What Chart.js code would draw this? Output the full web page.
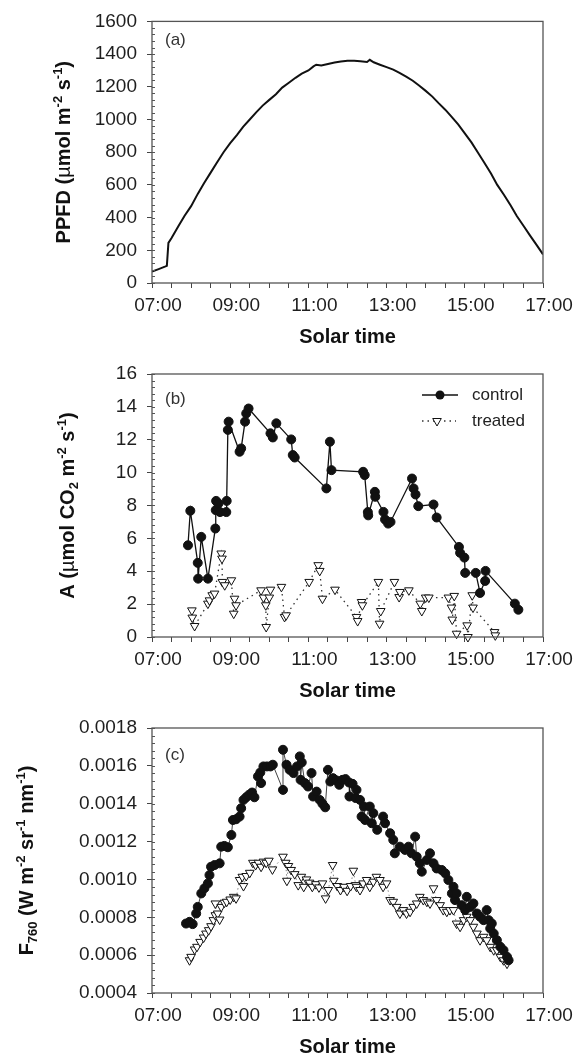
<!DOCTYPE html>
<html>
<head>
<meta charset="utf-8">
<script src="https://cdn.jsdelivr.net/npm/chart.js@4.4.1/dist/chart.umd.min.js"></script>
<style>
  html, body { margin: 0; padding: 0; background: #fff; }
  #wrap { position: relative; width: 576px; height: 1055px; }
  canvas { position: absolute; left: 0; }
</style>
</head>
<body>
<div id="wrap">
  <canvas id="chartA" width="576" height="345" style="top:0px"></canvas>
  <canvas id="chartB" width="576" height="355" style="top:345px"></canvas>
  <canvas id="chartC" width="576" height="355" style="top:700px"></canvas>
</div>
<script>
// solar time axis (hours), labels every 2 h
const timeTickHours = [7, 9, 11, 13, 15, 17];
const timeLabels = ['07:00', '09:00', '11:00', '13:00', '15:00', '17:00'];
const seriesNames = ['control', 'treated'];
const panelLetters = ['(a)', '(b)', '(c)'];

// (a) PPFD
const ppfdTime = [7.00,7.17,7.33,7.38,7.42,7.50,7.67,7.83,8.00,8.17,8.33,8.50,8.67,8.83,9.00,9.17,9.33,9.50,9.67,9.83,
  10.00,10.17,10.33,10.50,10.67,10.83,11.00,11.13,11.20,11.33,11.50,11.67,11.83,12.00,12.17,12.33,12.50,12.57,12.67,12.83,
  13.00,13.17,13.33,13.50,13.67,13.83,14.00,14.17,14.33,14.50,14.67,14.83,15.00,15.17,15.33,15.50,15.67,15.83,
  16.00,16.17,16.33,16.50,16.67,16.83,17.00];
const ppfdValue = [70,85,100,105,245,275,345,410,470,545,610,675,740,800,855,905,955,1000,1045,1085,
  1120,1155,1195,1225,1255,1280,1300,1325,1335,1330,1340,1348,1355,1360,1360,1356,1352,1365,1350,1335,
  1320,1305,1285,1262,1237,1208,1175,1140,1100,1060,1015,970,915,860,800,735,670,600,
  540,475,410,350,290,235,175];

// (b) net assimilation A
const aControlTime = [7.92,7.98,8.17,8.18,8.26,8.43,8.62,8.63,8.64,8.70,8.74,8.90,8.91,8.94,8.96,9.24,9.28,9.38,9.41,9.47,
  10.03,10.09,10.18,10.56,10.60,10.65,11.46,11.55,11.59,12.40,12.44,12.52,12.53,12.70,12.71,12.92,12.96,13.04,13.10,
  13.65,13.69,13.74,13.81,14.20,14.28,14.85,14.88,14.99,15.01,15.28,15.39,15.52,15.53,16.28,16.37];
const aControlValue = [5.58,7.68,4.51,3.55,6.09,3.55,6.6,7.72,8.28,8.12,7.6,7.6,8.28,12.6,13.1,11.27,11.47,13.1,13.6,13.9,
  12.39,12.14,13.0,12.02,11.07,10.92,9.04,11.88,10.15,10.05,9.85,7.6,7.4,8.83,8.53,7.61,7.15,6.9,7.0,
  9.64,9.04,8.67,7.96,8.06,7.27,5.48,5.12,4.83,3.9,3.9,2.68,3.41,4.02,2.03,1.66];
const aTreatedTime = [8.02,8.03,8.09,8.43,8.47,8.54,8.60,8.77,8.79,8.80,8.86,9.03,9.09,9.11,9.15,9.79,9.85,9.91,9.92,
  10.00,10.03,10.31,10.39,10.43,11.02,11.25,11.29,11.36,11.68,12.23,12.26,12.36,12.38,12.79,12.82,12.85,
  13.20,13.32,13.34,13.57,13.86,13.90,14.00,14.08,14.58,14.66,14.68,14.73,14.79,15.06,15.08,15.19,15.21,15.76,15.78];
const aTreatedValue = [1.62,1.18,0.67,2.03,2.23,2.54,2.64,5.08,4.77,3.35,3.15,3.45,1.42,2.33,1.93,2.84,2.4,1.93,0.61,
  2.4,2.88,3.05,1.22,1.32,3.35,4.37,4.02,2.33,2.88,1.22,0.97,2.13,1.93,3.35,0.81,1.58,
  3.35,2.43,2.74,2.84,2.03,1.58,2.4,2.4,2.4,1.79,1.06,2.5,0.2,0.71,0.0,2.54,1.79,0.3,0.1];

// (c) F760
const fControlTime = [7.87,7.96,8.04,8.13,8.17,8.26,8.34,8.43,8.47,8.51,
  8.60,8.73,8.77,8.85,8.94,9.03,9.07,9.15,9.24,9.28,
  9.34,9.41,9.48,9.56,9.62,9.71,9.77,9.79,9.85,9.94,
  10.03,10.09,10.35,10.35,10.44,10.52,10.62,10.71,10.78,10.80,
  10.83,10.91,10.99,11.08,11.12,11.21,11.29,11.36,11.43,11.50,
  11.56,11.63,11.72,11.79,11.87,11.95,12.04,12.05,12.13,12.21,
  12.23,12.32,12.36,12.42,12.45,12.57,12.62,12.66,12.76,12.91,
  12.96,13.09,13.17,13.21,13.34,13.47,13.56,13.64,13.73,13.77,
  13.85,13.90,14.03,14.11,14.20,14.28,14.41,14.50,14.58,14.67,
  14.71,14.75,14.79,14.92,15.01,15.05,15.14,15.22,15.31,15.39,
  15.48,15.56,15.61,15.65,15.69,15.74,15.82,15.91,15.99,16.08,16.12];
const fControlValue = [0.000767,0.000776,0.000764,0.00082,0.000855,0.000926,0.000953,0.000979,0.001023,0.001067,
  0.001076,0.001085,0.001173,0.001177,0.00117,0.001235,0.001314,0.001318,0.001332,0.001376,
  0.00142,0.001434,0.001447,0.001459,0.001434,0.001544,0.001565,0.001509,0.001597,0.001597,
  0.001597,0.001606,0.001473,0.001685,0.001606,0.001579,0.001562,0.001597,0.00165,0.001526,
  0.001618,0.001509,0.001491,0.001562,0.001438,0.001464,0.00142,0.0014,0.001381,0.001579,
  0.001517,0.001535,0.001523,0.0015,0.001526,0.00153,0.001512,0.001438,0.001505,0.00143,
  0.001473,0.00142,0.001332,0.001385,0.001314,0.001385,0.001297,0.00135,0.001262,0.001332,
  0.001297,0.001244,0.001209,0.001138,0.001173,0.001156,0.001173,0.001138,0.001226,0.00112,
  0.001085,0.001041,0.001103,0.001138,0.001085,0.001058,0.00105,0.001032,0.000997,0.000926,
  0.000961,0.000891,0.000926,0.000864,0.000838,0.000908,0.000855,0.000873,0.00082,0.000803,
  0.000785,0.000838,0.000785,0.000741,0.000767,0.000714,0.000679,0.000644,0.000626,0.000591,0.000573];
const fTreatedTime = [7.96,8.00,8.09,8.15,8.23,8.32,8.38,8.45,8.51,8.57,
  8.62,8.62,8.68,8.73,8.77,8.85,8.91,9.00,9.09,9.15,
  9.24,9.31,9.34,9.41,9.50,9.58,9.65,9.72,9.79,9.85,
  9.92,9.99,10.08,10.35,10.42,10.45,10.49,10.56,10.65,10.74,
  10.82,10.88,10.95,11.03,11.10,11.19,11.27,11.36,11.44,11.51,
  11.62,11.65,11.74,11.82,11.91,11.99,12.08,12.15,12.21,12.23,
  12.32,12.40,12.49,12.57,12.66,12.74,12.83,12.91,13.00,13.09,
  13.17,13.26,13.34,13.43,13.51,13.60,13.68,13.77,13.85,13.94,
  14.03,14.11,14.20,14.28,14.37,14.45,14.54,14.62,14.71,14.79,
  14.88,14.97,15.05,15.14,15.22,15.31,15.39,15.48,15.56,15.65,
  15.74,15.82,15.91,15.99,16.08];
const fTreatedValue = [0.000573,0.000591,0.00063,0.000644,0.00067,0.000693,0.000714,0.000732,0.000753,0.000785,
  0.000811,0.000873,0.00082,0.000788,0.000855,0.000877,0.000882,0.000894,0.000908,0.0009,
  0.000997,0.001014,0.000965,0.001018,0.001035,0.001088,0.001076,0.001088,0.001067,0.001094,
  0.001088,0.001099,0.001053,0.00112,0.001088,0.000993,0.001071,0.00105,0.001028,0.00097,
  0.001014,0.000961,0.001,0.000983,0.000961,0.000975,0.000958,0.000979,0.0009,0.000944,
  0.001076,0.000993,0.000965,0.000944,0.000961,0.00094,0.000965,0.001046,0.00097,0.000961,
  0.000944,0.000979,0.000997,0.000961,0.000988,0.001014,0.000997,0.000961,0.000979,0.000891,
  0.000882,0.000855,0.00082,0.000838,0.00082,0.000829,0.000855,0.000873,0.000908,0.000891,
  0.000882,0.000873,0.000953,0.000891,0.000864,0.000838,0.000829,0.000838,0.000838,0.000767,
  0.00075,0.000785,0.000803,0.000785,0.00075,0.000714,0.000679,0.000697,0.000679,0.000644,
  0.000626,0.000626,0.000591,0.000573,0.000555];

const fam = "'Liberation Sans', Arial, sans-serif";

function pts(times, vals) {
  return times.map((t, i) => ({ x: t, y: vals[i] }));
}

// axis title with super/subscripts, rotated
function drawYTitle(ctx, parts, baseX, centerY) {
  const fontOf = p => (p.w || 'bold') + ' ' + (p.s ? 13 : 20) + 'px ' + fam;
  ctx.save();
  ctx.translate(baseX, centerY);
  ctx.rotate(-Math.PI / 2);
  let total = 0;
  parts.forEach(p => { ctx.font = fontOf(p); total += ctx.measureText(p.t).width; });
  let x = -total / 2;
  ctx.fillStyle = '#111';
  ctx.textAlign = 'left';
  ctx.textBaseline = 'alphabetic';
  parts.forEach(p => {
    ctx.font = fontOf(p);
    const dy = p.s === 1 ? -8 : (p.s === -1 ? 4 : 0);
    ctx.fillText(p.t, x, dy);
    x += ctx.measureText(p.t).width;
  });
  ctx.restore();
}

function decoPlugin(d) {
  return {
    id: 'deco',
    afterDraw(chart) {
      const ctx = chart.ctx;
      const a = chart.chartArea;
      const ys = chart.scales.y;
      ctx.save();
      // box
      ctx.strokeStyle = '#555';
      ctx.lineWidth = 1.3;
      ctx.strokeRect(a.left, a.top, a.right - a.left, a.bottom - a.top);
      // minor ticks on y, inside
      ctx.lineWidth = 1;
      ctx.beginPath();
      for (let v = ys.min; v <= ys.max + d.minor / 2; v += d.minor) {
        const y = Math.round(ys.getPixelForValue(v)) + 0.5;
        ctx.moveTo(a.left, y);
        ctx.lineTo(a.left + 3, y);
      }
      ctx.stroke();
      // panel letter
      ctx.fillStyle = '#333';
      ctx.font = '17px ' + fam;
      ctx.textAlign = 'left';
      ctx.textBaseline = 'middle';
      ctx.fillText(d.letter, 165, d.letterY);
      // x title
      ctx.fillStyle = '#111';
      ctx.font = 'bold 20px ' + fam;
      ctx.textAlign = 'center';
      ctx.textBaseline = 'alphabetic';
      ctx.fillText('Solar time', (a.left + a.right) / 2, a.bottom + 60);
      // y title
      drawYTitle(ctx, d.yTitle, d.yTitleX, (a.top + a.bottom) / 2);
      // legend (panel b)
      if (d.legend) {
        ctx.textAlign = 'left';
        ctx.textBaseline = 'middle';
        ctx.font = '17px ' + fam;
        ctx.fillStyle = '#222';
        ctx.strokeStyle = '#111';
        ctx.lineWidth = 1.3;
        ctx.beginPath(); ctx.moveTo(422, 50); ctx.lineTo(458, 50); ctx.stroke();
        ctx.beginPath(); ctx.arc(440, 50, 4.5, 0, Math.PI * 2); ctx.fillStyle = '#111'; ctx.fill();
        ctx.fillStyle = '#222';
        ctx.fillText(seriesNames[0], 472, 50);
        ctx.setLineDash([1.5, 4]);
        ctx.strokeStyle = '#333';
        ctx.beginPath(); ctx.moveTo(422, 76); ctx.lineTo(456, 76); ctx.stroke();
        ctx.setLineDash([]);
        ctx.beginPath();
        ctx.moveTo(437 - 4.3, 76 - 2.5); ctx.lineTo(437 + 4.3, 76 - 2.5); ctx.lineTo(437, 76 + 5);
        ctx.closePath();
        ctx.fillStyle = '#fff'; ctx.fill();
        ctx.strokeStyle = '#111'; ctx.lineWidth = 1; ctx.stroke();
        ctx.fillStyle = '#222';
        ctx.fillText(seriesNames[1], 472, 76);
      }
      ctx.restore();
    }
  };
}

function makePanel(id, datasets, y, deco) {
  return new Chart(document.getElementById(id), {
    type: 'line',
    data: { datasets: datasets },
    options: {
      responsive: false,
      animation: false,
      layout: { padding: { top: deco.top, right: 33, bottom: 0, left: 0 } },
      plugins: { legend: { display: false }, tooltip: { enabled: false } },
      scales: {
        x: {
          type: 'linear', min: 7, max: 17,
          afterFit: s => { s.height = deco.xHeight; },
          border: { display: false },
          grid: { drawOnChartArea: false, tickLength: 5, tickColor: '#444', tickWidth: 1 },
          ticks: {
            stepSize: 0.5, autoSkip: false, maxRotation: 0, padding: 6, labelOffset: 6,
            font: { family: fam, size: 19 }, color: '#1e1e1e',
            callback: v => {
              const k = timeTickHours.indexOf(v);
              return k >= 0 ? timeLabels[k] : '';
            }
          }
        },
        y: {
          min: y.min, max: y.max,
          afterFit: s => { s.width = 152; },
          border: { display: false },
          grid: { drawOnChartArea: false, tickLength: 5, tickColor: '#444', tickWidth: 1 },
          ticks: {
            stepSize: y.step, padding: 10,
            font: { family: fam, size: 19 }, color: '#1e1e1e',
            callback: y.fmt
          }
        }
      }
    },
    plugins: [decoPlugin(deco)]
  });
}

makePanel('chartA', [{
  data: pts(ppfdTime, ppfdValue),
  borderColor: '#111', borderWidth: 2, pointRadius: 0, tension: 0, fill: false
}], { min: 0, max: 1600, step: 200, fmt: v => String(v) }, {
  top: 18, xHeight: 62, minor: 40, letter: panelLetters[0], letterY: 40,
  yTitleX: 70,
  yTitle: [{ t: 'PPFD (' }, { t: 'µ', w: 'normal' }, { t: 'mol m' }, { t: '-2', s: 1 }, { t: ' s' }, { t: '-1', s: 1 }, { t: ')' }]
});

makePanel('chartB', [{
  label: seriesNames[0],
  data: pts(aControlTime, aControlValue),
  borderColor: '#111', borderWidth: 1.3, tension: 0,
  pointStyle: 'circle', pointRadius: 4.5, pointBackgroundColor: '#111', pointBorderColor: '#111', pointBorderWidth: 1,
  clip: false
}, {
  label: seriesNames[1],
  data: pts(aTreatedTime, aTreatedValue),
  borderColor: '#333', borderWidth: 1.3, borderDash: [1.5, 4], tension: 0,
  pointStyle: 'triangle', pointRotation: 180, pointRadius: 5,
  pointBackgroundColor: '#fff', pointBorderColor: '#111', pointBorderWidth: 1,
  clip: false
}], { min: 0, max: 16, step: 2, fmt: v => String(v) }, {
  top: 29, xHeight: 63, minor: 0.4, letter: panelLetters[1], letterY: 54, legend: true,
  yTitleX: 74,
  yTitle: [{ t: 'A (' }, { t: 'µ', w: 'normal' }, { t: 'mol CO' }, { t: '2', s: -1 }, { t: ' m' }, { t: '-2', s: 1 }, { t: ' s' }, { t: '-1', s: 1 }, { t: ')' }]
});

makePanel('chartC', [{
  label: seriesNames[0],
  data: pts(fControlTime, fControlValue),
  borderColor: '#111', borderWidth: 0.8, tension: 0,
  pointStyle: 'circle', pointRadius: 4.5, pointBackgroundColor: '#111', pointBorderColor: '#111', pointBorderWidth: 1
}, {
  label: seriesNames[1],
  data: pts(fTreatedTime, fTreatedValue),
  borderColor: '#666', borderWidth: 0.8, borderDash: [1.5, 3], tension: 0,
  pointStyle: 'triangle', pointRotation: 180, pointRadius: 5,
  pointBackgroundColor: '#fff', pointBorderColor: '#111', pointBorderWidth: 1
}], { min: 0.0004, max: 0.0018, step: 0.0002, fmt: v => v.toFixed(4) }, {
  top: 28, xHeight: 62, minor: 0.00004, letter: panelLetters[2], letterY: 55,
  yTitleX: 33,
  yTitle: [{ t: 'F' }, { t: '760', s: -1 }, { t: ' (W m' }, { t: '-2', s: 1 }, { t: ' sr' }, { t: '-1', s: 1 }, { t: ' nm' }, { t: '-1', s: 1 }, { t: ')' }]
});
</script>
</body>
</html>
